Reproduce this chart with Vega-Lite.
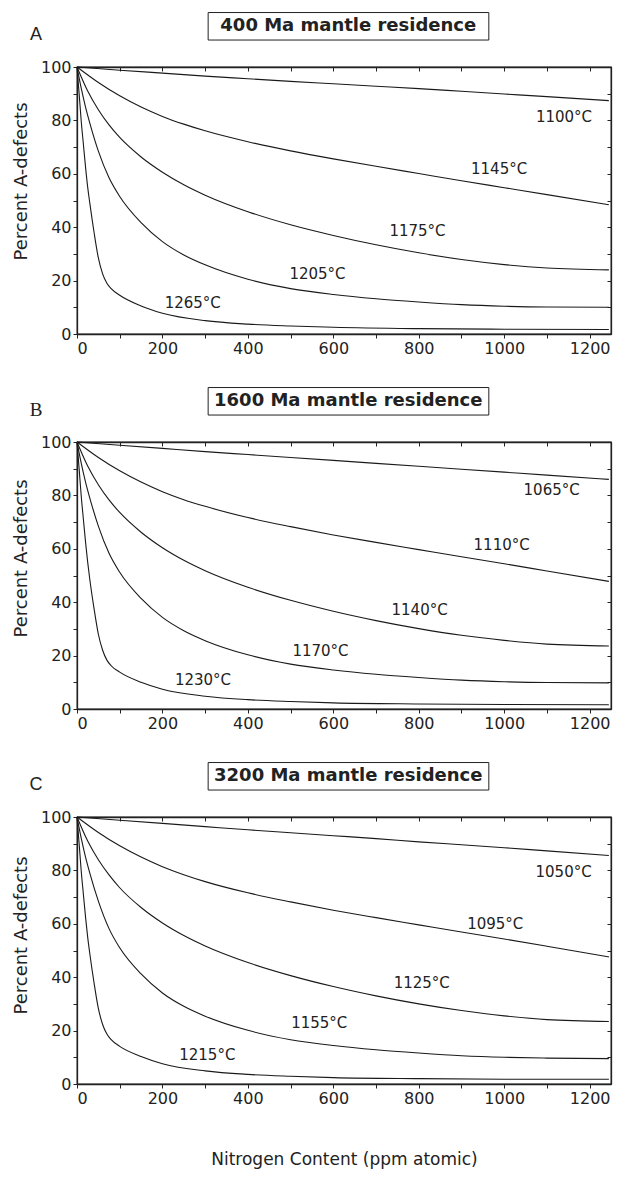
{
  "$schema": "https://vega.github.io/schema/vega-lite/v6.json",
  "background": "white",
  "padding": {"left": 11, "top": 11, "right": 6, "bottom": 4},
  "spacing": 29,
  "datasets": {
    "curves": [
      {"p":"A","c":1,"n":0,"v":100},{"p":"A","c":1,"n":100,"v":98.8},{"p":"A","c":1,"n":200,"v":97.7},{"p":"A","c":1,"n":300,"v":96.6},{"p":"A","c":1,"n":400,"v":95.6},{"p":"A","c":1,"n":500,"v":94.6},{"p":"A","c":1,"n":600,"v":93.7},{"p":"A","c":1,"n":700,"v":92.8},{"p":"A","c":1,"n":800,"v":91.9},{"p":"A","c":1,"n":900,"v":90.9},{"p":"A","c":1,"n":1000,"v":89.9},{"p":"A","c":1,"n":1100,"v":88.9},{"p":"A","c":1,"n":1245,"v":87.4},
      {"p":"A","c":2,"n":0,"v":100},{"p":"A","c":2,"n":50,"v":94.2},{"p":"A","c":2,"n":100,"v":89.2},{"p":"A","c":2,"n":150,"v":85},{"p":"A","c":2,"n":200,"v":81.5},{"p":"A","c":2,"n":250,"v":78.6},{"p":"A","c":2,"n":300,"v":76.1},{"p":"A","c":2,"n":400,"v":72},{"p":"A","c":2,"n":500,"v":68.6},{"p":"A","c":2,"n":600,"v":65.6},{"p":"A","c":2,"n":700,"v":62.8},{"p":"A","c":2,"n":800,"v":60.1},{"p":"A","c":2,"n":900,"v":57.4},{"p":"A","c":2,"n":1000,"v":54.8},{"p":"A","c":2,"n":1100,"v":52.2},{"p":"A","c":2,"n":1245,"v":48.4},
      {"p":"A","c":3,"n":0,"v":100},{"p":"A","c":3,"n":25,"v":91},{"p":"A","c":3,"n":50,"v":84},{"p":"A","c":3,"n":75,"v":78.3},{"p":"A","c":3,"n":100,"v":73.6},{"p":"A","c":3,"n":150,"v":66.3},{"p":"A","c":3,"n":200,"v":60.6},{"p":"A","c":3,"n":250,"v":55.9},{"p":"A","c":3,"n":300,"v":52},{"p":"A","c":3,"n":400,"v":45.8},{"p":"A","c":3,"n":500,"v":40.9},{"p":"A","c":3,"n":600,"v":36.9},{"p":"A","c":3,"n":700,"v":33.4},{"p":"A","c":3,"n":800,"v":30.4},{"p":"A","c":3,"n":900,"v":27.9},{"p":"A","c":3,"n":1000,"v":26},{"p":"A","c":3,"n":1100,"v":24.7},{"p":"A","c":3,"n":1245,"v":24},
      {"p":"A","c":4,"n":0,"v":100},{"p":"A","c":4,"n":10,"v":92},{"p":"A","c":4,"n":20,"v":85},{"p":"A","c":4,"n":30,"v":79},{"p":"A","c":4,"n":50,"v":68.5},{"p":"A","c":4,"n":75,"v":58.5},{"p":"A","c":4,"n":100,"v":51.5},{"p":"A","c":4,"n":150,"v":41.7},{"p":"A","c":4,"n":200,"v":34.6},{"p":"A","c":4,"n":250,"v":29.6},{"p":"A","c":4,"n":300,"v":25.9},{"p":"A","c":4,"n":400,"v":20.5},{"p":"A","c":4,"n":500,"v":17},{"p":"A","c":4,"n":600,"v":14.8},{"p":"A","c":4,"n":700,"v":13.2},{"p":"A","c":4,"n":800,"v":12},{"p":"A","c":4,"n":900,"v":11},{"p":"A","c":4,"n":1000,"v":10.4},{"p":"A","c":4,"n":1100,"v":10.1},{"p":"A","c":4,"n":1245,"v":10},
      {"p":"A","c":5,"n":0,"v":100},{"p":"A","c":5,"n":5,"v":90},{"p":"A","c":5,"n":10,"v":79.5},{"p":"A","c":5,"n":15,"v":71},{"p":"A","c":5,"n":20,"v":62.5},{"p":"A","c":5,"n":25,"v":55},{"p":"A","c":5,"n":30,"v":49},{"p":"A","c":5,"n":40,"v":38},{"p":"A","c":5,"n":50,"v":28.5},{"p":"A","c":5,"n":60,"v":22.5},{"p":"A","c":5,"n":70,"v":19},{"p":"A","c":5,"n":80,"v":17},{"p":"A","c":5,"n":100,"v":14.5},{"p":"A","c":5,"n":150,"v":10.5},{"p":"A","c":5,"n":200,"v":7.8},{"p":"A","c":5,"n":300,"v":5},{"p":"A","c":5,"n":400,"v":3.7},{"p":"A","c":5,"n":500,"v":3},{"p":"A","c":5,"n":600,"v":2.5},{"p":"A","c":5,"n":800,"v":2},{"p":"A","c":5,"n":1000,"v":1.8},{"p":"A","c":5,"n":1245,"v":1.7},

      {"p":"B","c":1,"n":0,"v":100},{"p":"B","c":1,"n":100,"v":98.8},{"p":"B","c":1,"n":200,"v":97.6},{"p":"B","c":1,"n":300,"v":96.4},{"p":"B","c":1,"n":400,"v":95.3},{"p":"B","c":1,"n":500,"v":94.2},{"p":"B","c":1,"n":600,"v":93.1},{"p":"B","c":1,"n":700,"v":92},{"p":"B","c":1,"n":800,"v":90.9},{"p":"B","c":1,"n":900,"v":89.8},{"p":"B","c":1,"n":1000,"v":88.7},{"p":"B","c":1,"n":1100,"v":87.6},{"p":"B","c":1,"n":1245,"v":86},
      {"p":"B","c":2,"n":0,"v":100},{"p":"B","c":2,"n":50,"v":94.2},{"p":"B","c":2,"n":100,"v":89.2},{"p":"B","c":2,"n":150,"v":85},{"p":"B","c":2,"n":200,"v":81.4},{"p":"B","c":2,"n":250,"v":78.4},{"p":"B","c":2,"n":300,"v":75.9},{"p":"B","c":2,"n":400,"v":71.7},{"p":"B","c":2,"n":500,"v":68.3},{"p":"B","c":2,"n":600,"v":65.2},{"p":"B","c":2,"n":700,"v":62.4},{"p":"B","c":2,"n":800,"v":59.7},{"p":"B","c":2,"n":900,"v":57},{"p":"B","c":2,"n":1000,"v":54.4},{"p":"B","c":2,"n":1100,"v":51.7},{"p":"B","c":2,"n":1245,"v":47.8},
      {"p":"B","c":3,"n":0,"v":100},{"p":"B","c":3,"n":25,"v":91},{"p":"B","c":3,"n":50,"v":84},{"p":"B","c":3,"n":75,"v":78.3},{"p":"B","c":3,"n":100,"v":73.6},{"p":"B","c":3,"n":150,"v":66.2},{"p":"B","c":3,"n":200,"v":60.4},{"p":"B","c":3,"n":250,"v":55.7},{"p":"B","c":3,"n":300,"v":51.8},{"p":"B","c":3,"n":400,"v":45.6},{"p":"B","c":3,"n":500,"v":40.7},{"p":"B","c":3,"n":600,"v":36.6},{"p":"B","c":3,"n":700,"v":33.1},{"p":"B","c":3,"n":800,"v":30.1},{"p":"B","c":3,"n":900,"v":27.6},{"p":"B","c":3,"n":1000,"v":25.7},{"p":"B","c":3,"n":1100,"v":24.3},{"p":"B","c":3,"n":1245,"v":23.6},
      {"p":"B","c":4,"n":0,"v":100},{"p":"B","c":4,"n":10,"v":92},{"p":"B","c":4,"n":20,"v":85},{"p":"B","c":4,"n":30,"v":79},{"p":"B","c":4,"n":50,"v":68.5},{"p":"B","c":4,"n":75,"v":58.3},{"p":"B","c":4,"n":100,"v":51.2},{"p":"B","c":4,"n":150,"v":41.4},{"p":"B","c":4,"n":200,"v":34.3},{"p":"B","c":4,"n":250,"v":29.3},{"p":"B","c":4,"n":300,"v":25.6},{"p":"B","c":4,"n":400,"v":20.3},{"p":"B","c":4,"n":500,"v":16.8},{"p":"B","c":4,"n":600,"v":14.6},{"p":"B","c":4,"n":700,"v":13},{"p":"B","c":4,"n":800,"v":11.8},{"p":"B","c":4,"n":900,"v":10.8},{"p":"B","c":4,"n":1000,"v":10.2},{"p":"B","c":4,"n":1100,"v":9.9},{"p":"B","c":4,"n":1245,"v":9.8},
      {"p":"B","c":5,"n":0,"v":100},{"p":"B","c":5,"n":5,"v":90},{"p":"B","c":5,"n":10,"v":79.5},{"p":"B","c":5,"n":15,"v":71},{"p":"B","c":5,"n":20,"v":62.5},{"p":"B","c":5,"n":25,"v":55},{"p":"B","c":5,"n":30,"v":48.5},{"p":"B","c":5,"n":40,"v":37.5},{"p":"B","c":5,"n":50,"v":28},{"p":"B","c":5,"n":60,"v":22},{"p":"B","c":5,"n":70,"v":18.3},{"p":"B","c":5,"n":80,"v":16.2},{"p":"B","c":5,"n":100,"v":13.8},{"p":"B","c":5,"n":150,"v":10},{"p":"B","c":5,"n":200,"v":7.4},{"p":"B","c":5,"n":300,"v":4.8},{"p":"B","c":5,"n":400,"v":3.5},{"p":"B","c":5,"n":500,"v":2.8},{"p":"B","c":5,"n":600,"v":2.3},{"p":"B","c":5,"n":800,"v":1.9},{"p":"B","c":5,"n":1000,"v":1.7},{"p":"B","c":5,"n":1245,"v":1.6},

      {"p":"C","c":1,"n":0,"v":100},{"p":"C","c":1,"n":100,"v":98.8},{"p":"C","c":1,"n":200,"v":97.6},{"p":"C","c":1,"n":300,"v":96.4},{"p":"C","c":1,"n":400,"v":95.2},{"p":"C","c":1,"n":500,"v":94.1},{"p":"C","c":1,"n":600,"v":93},{"p":"C","c":1,"n":700,"v":91.9},{"p":"C","c":1,"n":800,"v":90.7},{"p":"C","c":1,"n":900,"v":89.6},{"p":"C","c":1,"n":1000,"v":88.5},{"p":"C","c":1,"n":1100,"v":87.3},{"p":"C","c":1,"n":1245,"v":85.6},
      {"p":"C","c":2,"n":0,"v":100},{"p":"C","c":2,"n":50,"v":94.2},{"p":"C","c":2,"n":100,"v":89.2},{"p":"C","c":2,"n":150,"v":85},{"p":"C","c":2,"n":200,"v":81.4},{"p":"C","c":2,"n":250,"v":78.4},{"p":"C","c":2,"n":300,"v":75.8},{"p":"C","c":2,"n":400,"v":71.6},{"p":"C","c":2,"n":500,"v":68.2},{"p":"C","c":2,"n":600,"v":65.1},{"p":"C","c":2,"n":700,"v":62.3},{"p":"C","c":2,"n":800,"v":59.6},{"p":"C","c":2,"n":900,"v":56.9},{"p":"C","c":2,"n":1000,"v":54.3},{"p":"C","c":2,"n":1100,"v":51.6},{"p":"C","c":2,"n":1245,"v":47.6},
      {"p":"C","c":3,"n":0,"v":100},{"p":"C","c":3,"n":25,"v":91},{"p":"C","c":3,"n":50,"v":84},{"p":"C","c":3,"n":75,"v":78.3},{"p":"C","c":3,"n":100,"v":73.5},{"p":"C","c":3,"n":150,"v":66.1},{"p":"C","c":3,"n":200,"v":60.3},{"p":"C","c":3,"n":250,"v":55.6},{"p":"C","c":3,"n":300,"v":51.7},{"p":"C","c":3,"n":400,"v":45.5},{"p":"C","c":3,"n":500,"v":40.6},{"p":"C","c":3,"n":600,"v":36.5},{"p":"C","c":3,"n":700,"v":33},{"p":"C","c":3,"n":800,"v":30},{"p":"C","c":3,"n":900,"v":27.5},{"p":"C","c":3,"n":1000,"v":25.5},{"p":"C","c":3,"n":1100,"v":24.1},{"p":"C","c":3,"n":1245,"v":23.4},
      {"p":"C","c":4,"n":0,"v":100},{"p":"C","c":4,"n":10,"v":92},{"p":"C","c":4,"n":20,"v":85},{"p":"C","c":4,"n":30,"v":79},{"p":"C","c":4,"n":50,"v":68.5},{"p":"C","c":4,"n":75,"v":58.2},{"p":"C","c":4,"n":100,"v":51},{"p":"C","c":4,"n":150,"v":41.2},{"p":"C","c":4,"n":200,"v":34.1},{"p":"C","c":4,"n":250,"v":29.1},{"p":"C","c":4,"n":300,"v":25.4},{"p":"C","c":4,"n":400,"v":20.1},{"p":"C","c":4,"n":500,"v":16.6},{"p":"C","c":4,"n":600,"v":14.4},{"p":"C","c":4,"n":700,"v":12.8},{"p":"C","c":4,"n":800,"v":11.6},{"p":"C","c":4,"n":900,"v":10.6},{"p":"C","c":4,"n":1000,"v":10},{"p":"C","c":4,"n":1100,"v":9.7},{"p":"C","c":4,"n":1245,"v":9.5},
      {"p":"C","c":5,"n":0,"v":100},{"p":"C","c":5,"n":5,"v":90},{"p":"C","c":5,"n":10,"v":79.5},{"p":"C","c":5,"n":15,"v":71},{"p":"C","c":5,"n":20,"v":62.5},{"p":"C","c":5,"n":25,"v":55},{"p":"C","c":5,"n":30,"v":48.8},{"p":"C","c":5,"n":40,"v":37.8},{"p":"C","c":5,"n":50,"v":28.3},{"p":"C","c":5,"n":60,"v":22.3},{"p":"C","c":5,"n":70,"v":18.7},{"p":"C","c":5,"n":80,"v":16.6},{"p":"C","c":5,"n":100,"v":14.1},{"p":"C","c":5,"n":150,"v":10.3},{"p":"C","c":5,"n":200,"v":7.6},{"p":"C","c":5,"n":300,"v":4.9},{"p":"C","c":5,"n":400,"v":3.6},{"p":"C","c":5,"n":500,"v":2.9},{"p":"C","c":5,"n":600,"v":2.4},{"p":"C","c":5,"n":800,"v":2},{"p":"C","c":5,"n":1000,"v":1.8},{"p":"C","c":5,"n":1245,"v":1.8}
    ],
    "labels": [
      {"p":"A","t":"1100°C","n":1140,"v":81.2},{"p":"A","t":"1145°C","n":988,"v":61.8},{"p":"A","t":"1175°C","n":797,"v":38.6},{"p":"A","t":"1205°C","n":563,"v":22.4},{"p":"A","t":"1265°C","n":271,"v":11.7},
      {"p":"B","t":"1065°C","n":1111,"v":82.2},{"p":"B","t":"1110°C","n":994,"v":61.5},{"p":"B","t":"1140°C","n":802,"v":37.1},{"p":"B","t":"1170°C","n":570,"v":21.7},{"p":"B","t":"1230°C","n":295,"v":11},
      {"p":"C","t":"1050°C","n":1139,"v":79.3},{"p":"C","t":"1095°C","n":979,"v":60.1},{"p":"C","t":"1125°C","n":807,"v":37.9},{"p":"C","t":"1155°C","n":567,"v":22.9},{"p":"C","t":"1215°C","n":305,"v":11}
    ],
    "titles": [
      {"p":"A","letter":"A","title":"400 Ma mantle residence"},
      {"p":"B","letter":"B","title":"1600 Ma mantle residence"},
      {"p":"C","letter":"C","title":"3200 Ma mantle residence"}
    ]
  },
  "vconcat": [
    {
      "width": 534, "height": 267,
      "resolve": {"axis": {"x": "independent", "y": "independent"}},
      "layer": [
        {"data": {"name": "curves"}, "transform": [{"filter": "datum.p === 'A'"}],
         "mark": {"type": "line", "interpolate": "monotone", "color": "#1a1a1a", "strokeWidth": 1.1},
         "encoding": {
           "x": {"field": "n", "type": "quantitative", "scale": {"domain": [0, 1250], "nice": false, "zero": false},
                 "axis": {"orient": "bottom", "values": [0,100,200,300,400,500,600,700,800,900,1000,1100,1200], "labelExpr": "datum.value % 200 === 0 ? format(datum.value, 'd') : ''", "title": null}},
           "y": {"field": "v", "type": "quantitative", "scale": {"domain": [0, 100], "nice": false},
                 "axis": {"orient": "left", "values": [0,10,20,30,40,50,60,70,80,90,100], "labelExpr": "datum.value % 20 === 0 ? datum.label : ''", "title": "Percent A-defects", "titleY": 114}},
           "detail": {"field": "c"}
         }},
        {"data": {"name": "labels"}, "transform": [{"filter": "datum.p === 'A'"}],
         "mark": {"type": "text", "font": "DejaVu Sans", "fontSize": 15, "color": "#222"},
         "encoding": {
           "x": {"field": "n", "type": "quantitative", "scale": {"domain": [0, 1250], "nice": false, "zero": false},
                 "axis": {"orient": "top", "values": [0,100,200,300,400,500,600,700,800,900,1000,1100,1200], "labels": false, "title": null, "tickSize": -4}},
           "y": {"field": "v", "type": "quantitative", "scale": {"domain": [0, 100], "nice": false},
                 "axis": {"orient": "right", "values": [0,10,20,30,40,50,60,70,80,90,100], "labels": false, "title": null, "tickSize": -4}},
           "text": {"field": "t"}
         }},
        {"data": {"name": "titles"}, "transform": [{"filter": "datum.p === 'A'"}],
         "mark": {"type": "rect", "fill": "white", "stroke": "#222", "strokeWidth": 1},
         "encoding": {
           "x": {"datum": 307, "type": "quantitative", "scale": {"domain": [0, 1250], "nice": false, "zero": false}, "axis": null},
           "x2": {"datum": 964},
           "y": {"datum": 120.4, "type": "quantitative", "scale": {"domain": [0, 100], "nice": false}, "axis": null},
           "y2": {"datum": 110.1}
         }},
        {"data": {"name": "titles"}, "transform": [{"filter": "datum.p === 'A'"}],
         "mark": {"type": "text", "font": "DejaVu Sans", "fontWeight": "bold", "fontSize": 18, "color": "#222"},
         "encoding": {
           "x": {"datum": 635, "type": "quantitative", "scale": {"domain": [0, 1250], "nice": false, "zero": false}, "axis": null},
           "y": {"datum": 115.2, "type": "quantitative", "scale": {"domain": [0, 100], "nice": false}, "axis": null},
           "text": {"field": "title"}
         }},
        {"data": {"name": "titles"}, "transform": [{"filter": "datum.p === 'A'"}],
         "mark": {"type": "text", "font": "Liberation Sans", "fontSize": 18, "color": "#222"},
         "encoding": {
           "x": {"datum": -96, "type": "quantitative", "scale": {"domain": [0, 1250], "nice": false, "zero": false}, "axis": null},
           "y": {"datum": 112, "type": "quantitative", "scale": {"domain": [0, 100], "nice": false}, "axis": null},
           "text": {"field": "letter"}
         }}
      ]
    },
    {
      "width": 534, "height": 267,
      "resolve": {"axis": {"x": "independent", "y": "independent"}},
      "layer": [
        {"data": {"name": "curves"}, "transform": [{"filter": "datum.p === 'B'"}],
         "mark": {"type": "line", "interpolate": "monotone", "color": "#1a1a1a", "strokeWidth": 1.1},
         "encoding": {
           "x": {"field": "n", "type": "quantitative", "scale": {"domain": [0, 1250], "nice": false, "zero": false},
                 "axis": {"orient": "bottom", "values": [0,100,200,300,400,500,600,700,800,900,1000,1100,1200], "labelExpr": "datum.value % 200 === 0 ? format(datum.value, 'd') : ''", "title": null}},
           "y": {"field": "v", "type": "quantitative", "scale": {"domain": [0, 100], "nice": false},
                 "axis": {"orient": "left", "values": [0,10,20,30,40,50,60,70,80,90,100], "labelExpr": "datum.value % 20 === 0 ? datum.label : ''", "title": "Percent A-defects", "titleY": 116}},
           "detail": {"field": "c"}
         }},
        {"data": {"name": "labels"}, "transform": [{"filter": "datum.p === 'B'"}],
         "mark": {"type": "text", "font": "DejaVu Sans", "fontSize": 15, "color": "#222"},
         "encoding": {
           "x": {"field": "n", "type": "quantitative", "scale": {"domain": [0, 1250], "nice": false, "zero": false},
                 "axis": {"orient": "top", "values": [0,100,200,300,400,500,600,700,800,900,1000,1100,1200], "labels": false, "title": null, "tickSize": -4}},
           "y": {"field": "v", "type": "quantitative", "scale": {"domain": [0, 100], "nice": false},
                 "axis": {"orient": "right", "values": [0,10,20,30,40,50,60,70,80,90,100], "labels": false, "title": null, "tickSize": -4}},
           "text": {"field": "t"}
         }},
        {"data": {"name": "titles"}, "transform": [{"filter": "datum.p === 'B'"}],
         "mark": {"type": "rect", "fill": "white", "stroke": "#222", "strokeWidth": 1},
         "encoding": {
           "x": {"datum": 307, "type": "quantitative", "scale": {"domain": [0, 1250], "nice": false, "zero": false}, "axis": null},
           "x2": {"datum": 964},
           "y": {"datum": 120.4, "type": "quantitative", "scale": {"domain": [0, 100], "nice": false}, "axis": null},
           "y2": {"datum": 110.1}
         }},
        {"data": {"name": "titles"}, "transform": [{"filter": "datum.p === 'B'"}],
         "mark": {"type": "text", "font": "DejaVu Sans", "fontWeight": "bold", "fontSize": 18, "color": "#222"},
         "encoding": {
           "x": {"datum": 635, "type": "quantitative", "scale": {"domain": [0, 1250], "nice": false, "zero": false}, "axis": null},
           "y": {"datum": 115.2, "type": "quantitative", "scale": {"domain": [0, 100], "nice": false}, "axis": null},
           "text": {"field": "title"}
         }},
        {"data": {"name": "titles"}, "transform": [{"filter": "datum.p === 'B'"}],
         "mark": {"type": "text", "font": "Liberation Serif", "fontSize": 19, "color": "#222"},
         "encoding": {
           "x": {"datum": -96, "type": "quantitative", "scale": {"domain": [0, 1250], "nice": false, "zero": false}, "axis": null},
           "y": {"datum": 112, "type": "quantitative", "scale": {"domain": [0, 100], "nice": false}, "axis": null},
           "text": {"field": "letter"}
         }}
      ]
    },
    {
      "width": 534, "height": 267,
      "resolve": {"axis": {"x": "independent", "y": "independent"}},
      "layer": [
        {"data": {"name": "curves"}, "transform": [{"filter": "datum.p === 'C'"}],
         "mark": {"type": "line", "interpolate": "monotone", "color": "#1a1a1a", "strokeWidth": 1.1},
         "encoding": {
           "x": {"field": "n", "type": "quantitative", "scale": {"domain": [0, 1250], "nice": false, "zero": false},
                 "axis": {"orient": "bottom", "values": [0,100,200,300,400,500,600,700,800,900,1000,1100,1200], "labelExpr": "datum.value % 200 === 0 ? format(datum.value, 'd') : ''", "title": "Nitrogen Content (ppm atomic)", "titlePadding": 45, "titleFontSize": 17}},
           "y": {"field": "v", "type": "quantitative", "scale": {"domain": [0, 100], "nice": false},
                 "axis": {"orient": "left", "values": [0,10,20,30,40,50,60,70,80,90,100], "labelExpr": "datum.value % 20 === 0 ? datum.label : ''", "title": "Percent A-defects", "titleY": 118}},
           "detail": {"field": "c"}
         }},
        {"data": {"name": "labels"}, "transform": [{"filter": "datum.p === 'C'"}],
         "mark": {"type": "text", "font": "DejaVu Sans", "fontSize": 15, "color": "#222"},
         "encoding": {
           "x": {"field": "n", "type": "quantitative", "scale": {"domain": [0, 1250], "nice": false, "zero": false},
                 "axis": {"orient": "top", "values": [0,100,200,300,400,500,600,700,800,900,1000,1100,1200], "labels": false, "title": null, "tickSize": -4}},
           "y": {"field": "v", "type": "quantitative", "scale": {"domain": [0, 100], "nice": false},
                 "axis": {"orient": "right", "values": [0,10,20,30,40,50,60,70,80,90,100], "labels": false, "title": null, "tickSize": -4}},
           "text": {"field": "t"}
         }},
        {"data": {"name": "titles"}, "transform": [{"filter": "datum.p === 'C'"}],
         "mark": {"type": "rect", "fill": "white", "stroke": "#222", "strokeWidth": 1},
         "encoding": {
           "x": {"datum": 307, "type": "quantitative", "scale": {"domain": [0, 1250], "nice": false, "zero": false}, "axis": null},
           "x2": {"datum": 964},
           "y": {"datum": 120.4, "type": "quantitative", "scale": {"domain": [0, 100], "nice": false}, "axis": null},
           "y2": {"datum": 110.1}
         }},
        {"data": {"name": "titles"}, "transform": [{"filter": "datum.p === 'C'"}],
         "mark": {"type": "text", "font": "DejaVu Sans", "fontWeight": "bold", "fontSize": 18, "color": "#222"},
         "encoding": {
           "x": {"datum": 635, "type": "quantitative", "scale": {"domain": [0, 1250], "nice": false, "zero": false}, "axis": null},
           "y": {"datum": 115.2, "type": "quantitative", "scale": {"domain": [0, 100], "nice": false}, "axis": null},
           "text": {"field": "title"}
         }},
        {"data": {"name": "titles"}, "transform": [{"filter": "datum.p === 'C'"}],
         "mark": {"type": "text", "font": "Liberation Sans", "fontSize": 18, "color": "#222"},
         "encoding": {
           "x": {"datum": -96, "type": "quantitative", "scale": {"domain": [0, 1250], "nice": false, "zero": false}, "axis": null},
           "y": {"datum": 112, "type": "quantitative", "scale": {"domain": [0, 100], "nice": false}, "axis": null},
           "text": {"field": "letter"}
         }}
      ]
    }
  ],
  "config": {
    "view": {"stroke": "#222", "strokeWidth": 1.3},
    "axis": {
      "grid": false, "domainColor": "#222", "domainWidth": 1.3, "tickColor": "#222", "tickWidth": 1, "tickSize": 4,
      "labelFont": "DejaVu Sans", "labelFontSize": 16, "labelColor": "#222", "labelPadding": 2,
      "titleFont": "DejaVu Sans", "titleFontSize": 18, "titleFontWeight": "normal", "titleColor": "#222", "titlePadding": 10
    },
    "text": {"baseline": "middle", "align": "center"}
  }
}
